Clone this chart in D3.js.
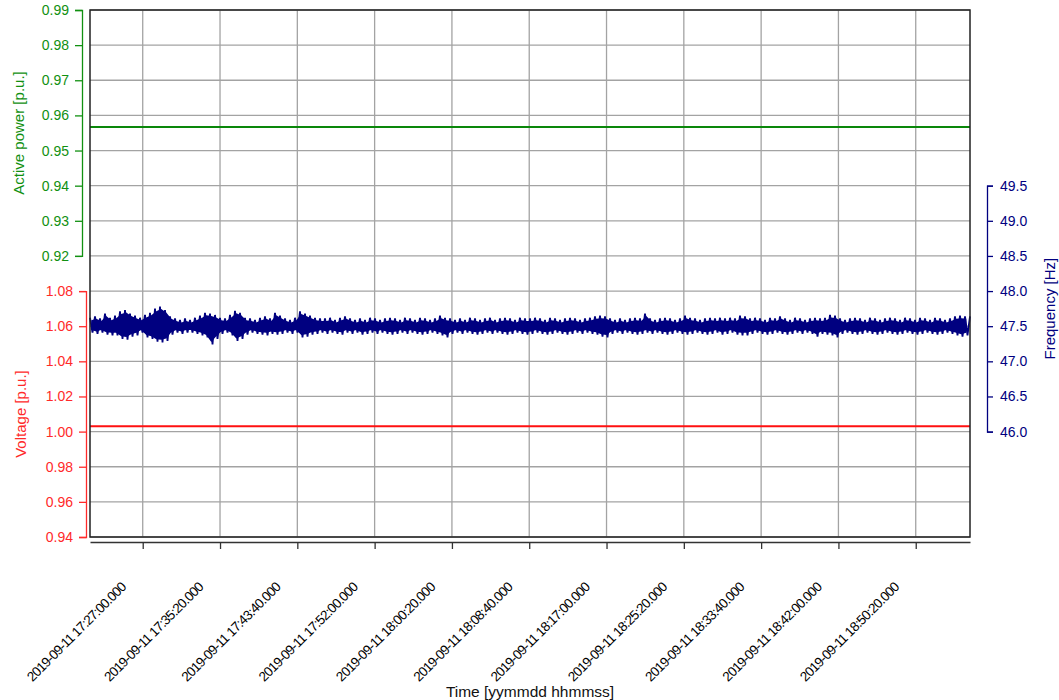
<!DOCTYPE html>
<html>
<head>
<meta charset="utf-8">
<script src="https://cdn.jsdelivr.net/npm/d3@7"></script>
<style>
  body { margin: 0; background: #fff; }
  svg { display: block; }
</style>
</head>
<body>
<div id="chart"></div>
<script>
// ---- data ----
const timeRange = ["2019-09-11 17:21:19.000", "2019-09-11 18:56:11.000"];
const timeTicks = [
  "2019-09-11 17:27:00.000", "2019-09-11 17:35:20.000", "2019-09-11 17:43:40.000",
  "2019-09-11 17:52:00.000", "2019-09-11 18:00:20.000", "2019-09-11 18:08:40.000",
  "2019-09-11 18:17:00.000", "2019-09-11 18:25:20.000", "2019-09-11 18:33:40.000",
  "2019-09-11 18:42:00.000", "2019-09-11 18:50:20.000"
];
const powerTicks = [0.92, 0.93, 0.94, 0.95, 0.96, 0.97, 0.98, 0.99];
const voltageTicks = [0.94, 0.96, 0.98, 1.00, 1.02, 1.04, 1.06, 1.08];
const freqTicks = [46.0, 46.5, 47.0, 47.5, 48.0, 48.5, 49.0, 49.5];

const powerValues = [0.9567, 0.9567];     // at start / end of range
const voltageValues = [1.003, 1.003];

// frequency envelope (max / min per sample bucket), Hz
const freqHigh = [
  47.62,47.64,47.61,47.68,47.62,47.65,47.71,47.73,47.68,47.65,
  47.62,47.66,47.69,47.75,47.78,47.73,47.64,47.61,47.59,47.61,
  47.59,47.62,47.65,47.69,47.68,47.66,47.62,47.61,47.66,47.72,
  47.69,47.62,47.61,47.59,47.62,47.64,47.61,47.69,47.65,47.61,
  47.59,47.62,47.71,47.68,
  47.65,47.62,47.61,47.61,47.62,47.59,47.62,47.64,47.61,47.59,
  47.61,47.59,47.62,47.61,47.59,47.61,47.62,47.61,47.59,47.62,
  47.61,47.59,47.62,47.61,47.59,47.61,47.65,47.62,47.61,47.59,
  47.61,47.59,47.62,47.61,47.59,47.61,47.62,47.59,47.61,47.62,
  47.61,47.59,47.62,47.61,
  47.61,47.62,47.61,47.59,47.62,47.61,47.59,47.61,47.62,47.61,
  47.59,47.61,47.62,47.64,47.65,47.64,47.61,47.59,47.61,47.59,
  47.61,47.62,47.61,47.68,47.61,47.59,47.61,47.62,47.61,47.59,
  47.61,47.65,47.62,47.61,47.59,47.61,47.62,47.61,47.62,47.61,
  47.62,47.61,47.65,47.64,
  47.61,47.62,47.61,47.59,47.62,47.61,47.64,47.61,47.59,47.62,
  47.61,47.59,47.61,47.62,47.61,47.62,47.66,47.65,47.61,47.59,
  47.61,47.62,47.61,47.59,47.62,47.61,47.59,47.61,47.62,47.61,
  47.59,47.62,47.61,47.59,47.62,47.61,47.59,47.62,47.61,47.59,
  47.61,47.64,47.65,47.64
];
const freqLow = [
  47.41,47.39,47.41,47.38,47.37,47.37,47.32,47.31,47.35,47.37,
  47.41,47.34,47.32,47.28,47.27,47.29,47.38,47.41,47.39,47.41,
  47.41,47.39,47.37,47.34,47.24,47.32,47.39,47.41,47.37,47.29,
  47.32,47.38,47.41,47.39,47.38,47.37,47.39,47.38,47.39,47.41,
  47.39,47.41,47.34,47.35,
  47.38,47.39,47.41,47.39,47.41,47.39,47.38,47.41,47.39,47.41,
  47.38,47.39,47.41,47.39,47.41,47.39,47.38,47.39,47.41,47.39,
  47.41,47.39,47.38,47.39,47.41,47.39,47.37,47.34,47.39,47.41,
  47.39,47.41,47.39,47.38,47.39,47.41,47.39,47.41,47.39,47.38,
  47.39,47.41,47.39,47.38,
  47.39,47.41,47.39,47.38,47.39,47.41,47.39,47.38,47.39,47.41,
  47.39,47.41,47.39,47.38,47.35,47.34,47.39,47.41,47.39,47.41,
  47.39,47.38,47.39,47.41,47.39,47.41,47.39,47.38,47.39,47.41,
  47.39,47.38,47.39,47.41,47.39,47.38,47.39,47.41,47.38,47.39,
  47.41,47.38,47.37,47.37,
  47.39,47.41,47.39,47.38,47.39,47.41,47.39,47.38,47.39,47.41,
  47.39,47.41,47.39,47.35,47.39,47.38,47.37,47.34,47.39,47.41,
  47.39,47.38,47.39,47.41,47.39,47.38,47.39,47.41,47.39,47.38,
  47.39,47.41,47.39,47.38,47.39,47.41,47.39,47.38,47.39,47.41,
  47.39,47.37,47.35,47.37
];

// ---- layout ----
const WIDTH = 1059, HEIGHT = 700;
const PLOT = {left: 90, right: 970, top: 10, bottom: 537};
const STEP = (PLOT.bottom - PLOT.top) / 15;   // one grid row

const GREEN = "#119011", GREEN_LINE = "#0a870a";
const RED = "#ff2a2a", RED_LINE = "#ff1010";
const NAVY = "#000080";
const FONT = "'Liberation Sans', Arial, sans-serif";

const parseTime = d3.timeParse("%Y-%m-%d %H:%M:%S.%L");
const fmtTime = d3.timeFormat("%Y-%m-%d %H:%M:%S.%L");

const svg = d3.select("#chart")
  .append("svg")
    .attr("width", WIDTH)
    .attr("height", HEIGHT)
    .style("font-family", FONT);

svg.append("rect").attr("width", WIDTH).attr("height", HEIGHT).attr("fill", "#fff");

// scales
const X_SCALE = d3.scaleTime()
  .domain(timeRange.map(parseTime))
  .range([PLOT.left, PLOT.right]);

const Y_POWER = d3.scaleLinear()
  .domain([0.92, 0.99])
  .range([PLOT.top + 7 * STEP, PLOT.top]);

const Y_VOLT = d3.scaleLinear()
  .domain([0.94, 1.08])
  .range([PLOT.bottom, PLOT.bottom - 7 * STEP]);

const Y_FREQ = d3.scaleLinear()
  .domain([46.0, 49.5])
  .range([PLOT.top + 12 * STEP, PLOT.top + 5 * STEP]);

const tickDates = timeTicks.map(parseTime);

// gridlines
const grid = svg.append("g").attr("stroke", "#a3a3a3").attr("stroke-width", 1.3);
const gridY = powerTicks.map(Y_POWER).concat(voltageTicks.map(Y_VOLT));
grid.selectAll("line.h")
  .data(gridY)
  .enter().append("line")
    .attr("x1", PLOT.left).attr("x2", PLOT.right)
    .attr("y1", d => d).attr("y2", d => d);
grid.selectAll("line.v")
  .data(tickDates)
  .enter().append("line")
    .attr("x1", d => X_SCALE(d)).attr("x2", d => X_SCALE(d))
    .attr("y1", PLOT.top).attr("y2", PLOT.bottom);

// constant series
const ends = timeRange.map(parseTime);
svg.append("path")
  .datum(powerValues)
  .attr("fill", "none")
  .attr("stroke", GREEN_LINE)
  .attr("stroke-width", 2)
  .attr("d", d3.line().x((d, i) => X_SCALE(ends[i])).y(d => Y_POWER(d)));

svg.append("path")
  .datum(voltageValues)
  .attr("fill", "none")
  .attr("stroke", RED_LINE)
  .attr("stroke-width", 2)
  .attr("d", d3.line().x((d, i) => X_SCALE(ends[i])).y(d => Y_VOLT(d)));

// frequency: min/max per bucket, drawn as a dense zig-zag trace
const n = freqHigh.length;
const t0 = ends[0].getTime(), dt = (ends[1].getTime() - t0) / n;
const freqPts = [];
freqHigh.forEach((hi, i) => {
  freqPts.push([new Date(t0 + i * dt), hi]);
  freqPts.push([new Date(t0 + (i + 0.5) * dt), freqLow[i]]);
});
freqPts.push([ends[1], freqHigh[n - 1]]);

const freqG = svg.append("g");
freqG.append("path")
  .datum(freqHigh)
  .attr("fill", NAVY)
  .attr("d", d3.area()
    .x((d, i) => X_SCALE(new Date(t0 + (i + 0.25) * dt)))
    .y1(d => Y_FREQ(d) + 2.5)
    .y0((d, i) => Y_FREQ(freqLow[i]) - 2.5));
freqG.append("path")
  .datum(freqPts)
  .attr("fill", "none")
  .attr("stroke", NAVY)
  .attr("stroke-width", 1.8)
  .attr("stroke-linejoin", "miter")
  .attr("d", d3.line().x(d => X_SCALE(d[0])).y(d => Y_FREQ(d[1])));

// plot frame
svg.append("rect")
  .attr("x", PLOT.left).attr("y", PLOT.top)
  .attr("width", PLOT.right - PLOT.left)
  .attr("height", PLOT.bottom - PLOT.top)
  .attr("fill", "none")
  .attr("stroke", "#222")
  .attr("stroke-width", 1.5);

// helper to colour an axis
function styleAxis(g, color, size) {
  g.attr("font-family", FONT).attr("font-size", size);
  g.select(".domain").attr("stroke", color).attr("stroke-width", 1.3);
  g.selectAll(".tick line").attr("stroke", color).attr("stroke-width", 1.3);
  g.selectAll(".tick text").attr("fill", color);
}

// active power axis
svg.append("g")
  .attr("transform", "translate(82,0)")
  .call(d3.axisLeft(Y_POWER).tickValues(powerTicks).tickFormat(d3.format(".2f"))
    .tickSize(7).tickPadding(6))
  .call(g => styleAxis(g, GREEN, "14px"));

// voltage axis
svg.append("g")
  .attr("transform", "translate(86,0)")
  .call(d3.axisLeft(Y_VOLT).tickValues(voltageTicks).tickFormat(d3.format(".2f"))
    .tickSize(7).tickPadding(6))
  .call(g => styleAxis(g, RED, "14px"));

// frequency axis
svg.append("g")
  .attr("transform", "translate(987,0)")
  .call(d3.axisRight(Y_FREQ).tickValues(freqTicks).tickFormat(d3.format(".1f"))
    .tickSize(6).tickPadding(7))
  .call(g => styleAxis(g, NAVY, "14px"));

// time axis
const xAxis = svg.append("g")
  .attr("transform", "translate(0,542)")
  .call(d3.axisBottom(X_SCALE).tickValues(tickDates).tickSize(7).tickSizeOuter(0))
  .call(g => styleAxis(g, "#333", "12px"));
xAxis.selectAll(".tick text").remove();

svg.append("g")
  .selectAll("text")
  .data(tickDates)
  .enter().append("text")
    .attr("transform", d => "translate(" + (X_SCALE(d) - 16) + ",588) rotate(-45)")
    .attr("text-anchor", "end")
    .attr("font-size", "13.5px")
    .attr("letter-spacing", "-0.75px")
    .attr("fill", "#000")
    .text(d => fmtTime(d));

// axis titles
svg.append("text")
  .attr("transform", "translate(24," + ((Y_POWER.range()[0] + Y_POWER.range()[1]) / 2) + ") rotate(-90)")
  .attr("text-anchor", "middle")
  .attr("font-size", "15px")
  .attr("fill", GREEN)
  .text("Active power [p.u.]");

svg.append("text")
  .attr("transform", "translate(26," + ((Y_VOLT.range()[0] + Y_VOLT.range()[1]) / 2) + ") rotate(-90)")
  .attr("text-anchor", "middle")
  .attr("font-size", "15px")
  .attr("fill", RED)
  .text("Voltage [p.u.]");

svg.append("text")
  .attr("transform", "translate(1055," + ((Y_FREQ.range()[0] + Y_FREQ.range()[1]) / 2) + ") rotate(-90)")
  .attr("text-anchor", "middle")
  .attr("font-size", "15px")
  .attr("fill", NAVY)
  .text("Frequency [Hz]");

svg.append("text")
  .attr("x", (PLOT.left + PLOT.right) / 2)
  .attr("y", 697)
  .attr("text-anchor", "middle")
  .attr("font-size", "15.5px")
  .attr("fill", "#111")
  .text("Time [yymmdd hhmmss]");
</script>
</body>
</html>
